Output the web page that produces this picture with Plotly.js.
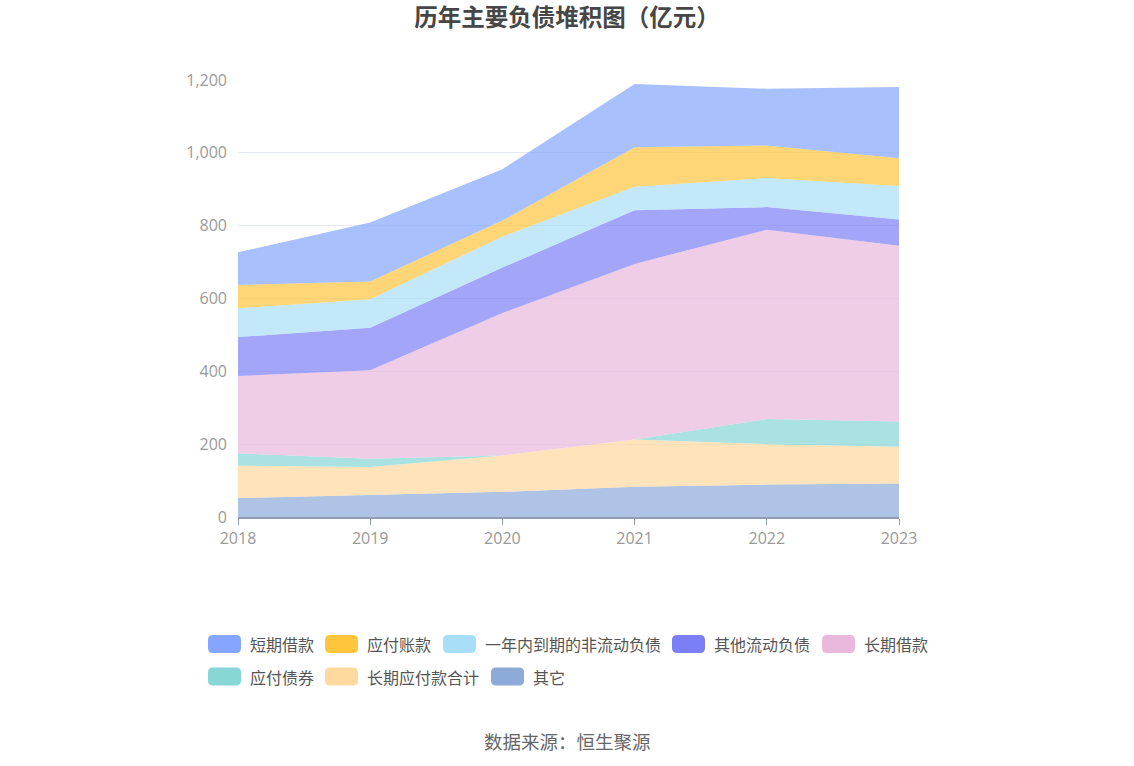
<!DOCTYPE html>
<html>
<head>
<meta charset="utf-8">
<script src="https://cdn.plot.ly/plotly-3.0.1.min.js"></script>
<style>
html,body{margin:0;padding:0;background:#fff;}
#chart{width:1134px;height:766px;}
</style>
</head>
<body>
<div id="chart"></div>
<script>
// ---- data (亿元) ----
const years = ['2018', '2019', '2020', '2021', '2022', '2023'];
const qita = [52, 60, 69, 83, 89, 92];                 // 其它
const changqiYingfu = [89, 77, 100, 130, 111, 101];    // 长期应付款合计
const yingfuZhaiquan = [34, 23, 0, 0, 69, 69];         // 应付债券
const changqiJiekuan = [212, 243, 391, 482, 520, 483]; // 长期借款
const qitaLiudong = [107, 117, 125, 147, 62, 72];      // 其他流动负债
const yinianDaoqi = [79, 78, 85, 65, 80, 92];          // 一年内到期的非流动负债
const yingfuZhangkuan = [64, 49, 44, 108, 89, 76];     // 应付账款
const duanqiJiekuan = [90, 162, 141, 174, 156, 196];   // 短期借款

const stackNames = ['其它', '长期应付款合计', '应付债券', '长期借款', '其他流动负债', '一年内到期的非流动负债', '应付账款', '短期借款'];
const stackValues = [qita, changqiYingfu, yingfuZhaiquan, changqiJiekuan, qitaLiudong, yinianDaoqi, yingfuZhangkuan, duanqiJiekuan];
const stackColors = ['#8dabd8', '#ffd99e', '#86d6d6', '#e9b8dc', '#7b7ff5', '#a8def8', '#ffc53d', '#85a5ff'];

const legendNames = ['短期借款', '应付账款', '一年内到期的非流动负债', '其他流动负债', '长期借款', '应付债券', '长期应付款合计', '其它'];

function hexToRgba(h, a) {
  const r = parseInt(h.slice(1, 3), 16), g = parseInt(h.slice(3, 5), 16), b = parseInt(h.slice(5, 7), 16);
  return 'rgba(' + r + ',' + g + ',' + b + ',' + a + ')';
}

const traces = stackNames.map((n, i) => ({
  type: 'scatter',
  mode: 'lines',
  name: n,
  x: years,
  y: stackValues[i],
  stackgroup: 'one',
  line: {width: 0, color: stackColors[i]},
  fillcolor: hexToRgba(stackColors[i], 0.7),
  hoverinfo: 'skip',
  showlegend: false
}));

// plot area in pixels
const W = 1134, H = 766;
const L = 238, R = 899, T = 80, B = 517;
const pw = R - L, ph = B - T;
function px2x(p) { return (p - L) / pw; }
function px2y(p) { return (B - p) / ph; }

function roundRect(x0, y0, w, h, r) {
  const X = p => px2x(p).toFixed(5), Y = p => px2y(p).toFixed(5);
  return 'M' + X(x0 + r) + ',' + Y(y0) +
    ' L' + X(x0 + w - r) + ',' + Y(y0) +
    ' Q' + X(x0 + w) + ',' + Y(y0) + ' ' + X(x0 + w) + ',' + Y(y0 + r) +
    ' L' + X(x0 + w) + ',' + Y(y0 + h - r) +
    ' Q' + X(x0 + w) + ',' + Y(y0 + h) + ' ' + X(x0 + w - r) + ',' + Y(y0 + h) +
    ' L' + X(x0 + r) + ',' + Y(y0 + h) +
    ' Q' + X(x0) + ',' + Y(y0 + h) + ' ' + X(x0) + ',' + Y(y0 + h - r) +
    ' L' + X(x0) + ',' + Y(y0 + r) +
    ' Q' + X(x0) + ',' + Y(y0) + ' ' + X(x0 + r) + ',' + Y(y0) + ' Z';
}

const legendColorOf = {};
stackNames.forEach((n, i) => legendColorOf[n] = stackColors[i]);
const legendPos = [[208, 644], [325, 644], [443, 644], [672, 644], [822, 644], [208, 676.5], [325, 676.5], [491, 676.5]];

const shapes = [];
const annotations = [];
legendNames.forEach((n, i) => {
  const [bx, cy] = legendPos[i];
  shapes.push({
    type: 'path', xref: 'paper', yref: 'paper',
    path: roundRect(bx, cy - 9, 33, 18, 5),
    fillcolor: legendColorOf[n],
    line: {width: 0}
  });
  annotations.push({
    xref: 'paper', yref: 'paper', x: px2x(bx + 40), y: px2y(cy),
    xanchor: 'left', yanchor: 'middle', showarrow: false,
    text: n, font: {size: 16, color: '#555', family: 'Noto Sans CJK SC, sans-serif'}
  });
});

annotations.push({
  xref: 'paper', yref: 'paper', x: px2x(567), y: px2y(741),
  xanchor: 'center', yanchor: 'middle', showarrow: false,
  text: '数据来源：恒生聚源', font: {size: 18.5, color: '#666', family: 'Noto Sans CJK SC, sans-serif'}
});

const layout = {
  width: W, height: H,
  paper_bgcolor: '#fff', plot_bgcolor: '#fff',
  margin: {l: L, r: W - R, t: T, b: H - B, pad: 0},
  title: {
    text: '<b>历年主要负债堆积图（亿元）</b>',
    x: 0.5, xanchor: 'center', y: 1 - 18 / H, yanchor: 'middle',
    font: {size: 23.5, color: '#464646', family: 'Noto Sans CJK SC, sans-serif'}
  },
  xaxis: {
    type: 'category', range: [0, years.length - 1],
    showgrid: false, zeroline: false,
    showline: true, linecolor: '#8f9cb3', linewidth: 2,
    ticks: 'outside', ticklen: 6, tickcolor: '#8f9cb3', tickwidth: 1,
    tickfont: {size: 16, color: '#999', family: 'Open Sans, sans-serif'},
    fixedrange: true
  },
  yaxis: {
    range: [0, 1200], tickvals: [0, 200, 400, 600, 800, 1000, 1200],
    ticktext: ['0', '200', '400', '600', '800', '1,000', '1,200'],
    showgrid: true, gridcolor: '#e4e9f4', gridwidth: 1,
    zeroline: false, showline: false, ticks: '',
    ticklabelstandoff: 10,
    tickfont: {size: 16, color: '#999', family: 'Open Sans, sans-serif'},
    fixedrange: true
  },
  showlegend: false,
  shapes: shapes,
  annotations: annotations,
  font: {family: 'Noto Sans CJK SC, sans-serif'}
};

Plotly.newPlot('chart', traces, layout, {displayModeBar: false, staticPlot: true});
</script>
</body>
</html>
